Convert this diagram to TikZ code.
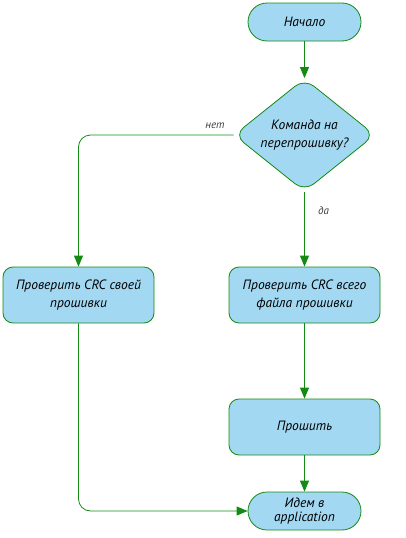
\documentclass[tikz,border=0pt]{standalone}
\usepackage{fontspec}
\setmainfont{PT Sans}
\definecolor{flowgreen}{HTML}{138A13}
\definecolor{flowblue}{HTML}{A2D8F2}
\usetikzlibrary{arrows.meta, positioning, shapes.geometric}

\begin{document}
\begin{tikzpicture}[x=1pt, y=-1pt,
  term/.style={rounded corners=19pt, minimum width=113pt, minimum height=38pt,
               draw=flowgreen, thick, fill=flowblue, align=center, font=\itshape\fontsize{13.5}{14}\selectfont},
  proc/.style={rounded corners=10pt, minimum width=151pt, minimum height=56pt,
               draw=flowgreen, thick, fill=flowblue, align=center, font=\itshape\fontsize{13.5}{18}\selectfont},
  cond/.style={diamond, aspect=1.25, rounded corners=12pt, minimum width=141pt, minimum height=113pt,
               inner sep=0pt, draw=flowgreen, thick, fill=flowblue, align=center, font=\itshape\fontsize{13.5}{18}\selectfont},
  flow/.style={-{Triangle[length=11pt, width=9pt]}, thick, flowgreen, rounded corners=12pt},
  lbl/.style={font=\itshape\fontsize{11}{12}\selectfont, text=black!75},
]
  \useasboundingbox (0,0) rectangle (405,538);
  \node[term] (start) at (304.5,22) {Начало};
  \node[cond] (ask) at (304.5,135) {Команда на\\перепрошивку?};
  \node[proc] (own) at (78.5,295) {Проверить CRC своей\\прошивки};
  \node[proc] (full) at (304.5,295) {Проверить CRC всего\\файла прошивки};
  \node[proc] (flash) at (304.5,427) {Прошить};
  \node[term] (app) at (304.5,511) {Идем в\\application};
  \draw[flow] (start) -- (ask);
  \draw[flow] (ask.west) -| node[lbl, pos=0.06, above=3pt] {нет} (own.north);
  \draw[flow] (ask) -- node[lbl, pos=0.25, right=10pt] {да} (full);
  \draw[flow] (full) -- (flash);
  \draw[flow] (flash) -- (app);
  \draw[flow] (own.south) |- (app.west);
\end{tikzpicture}
\end{document}
